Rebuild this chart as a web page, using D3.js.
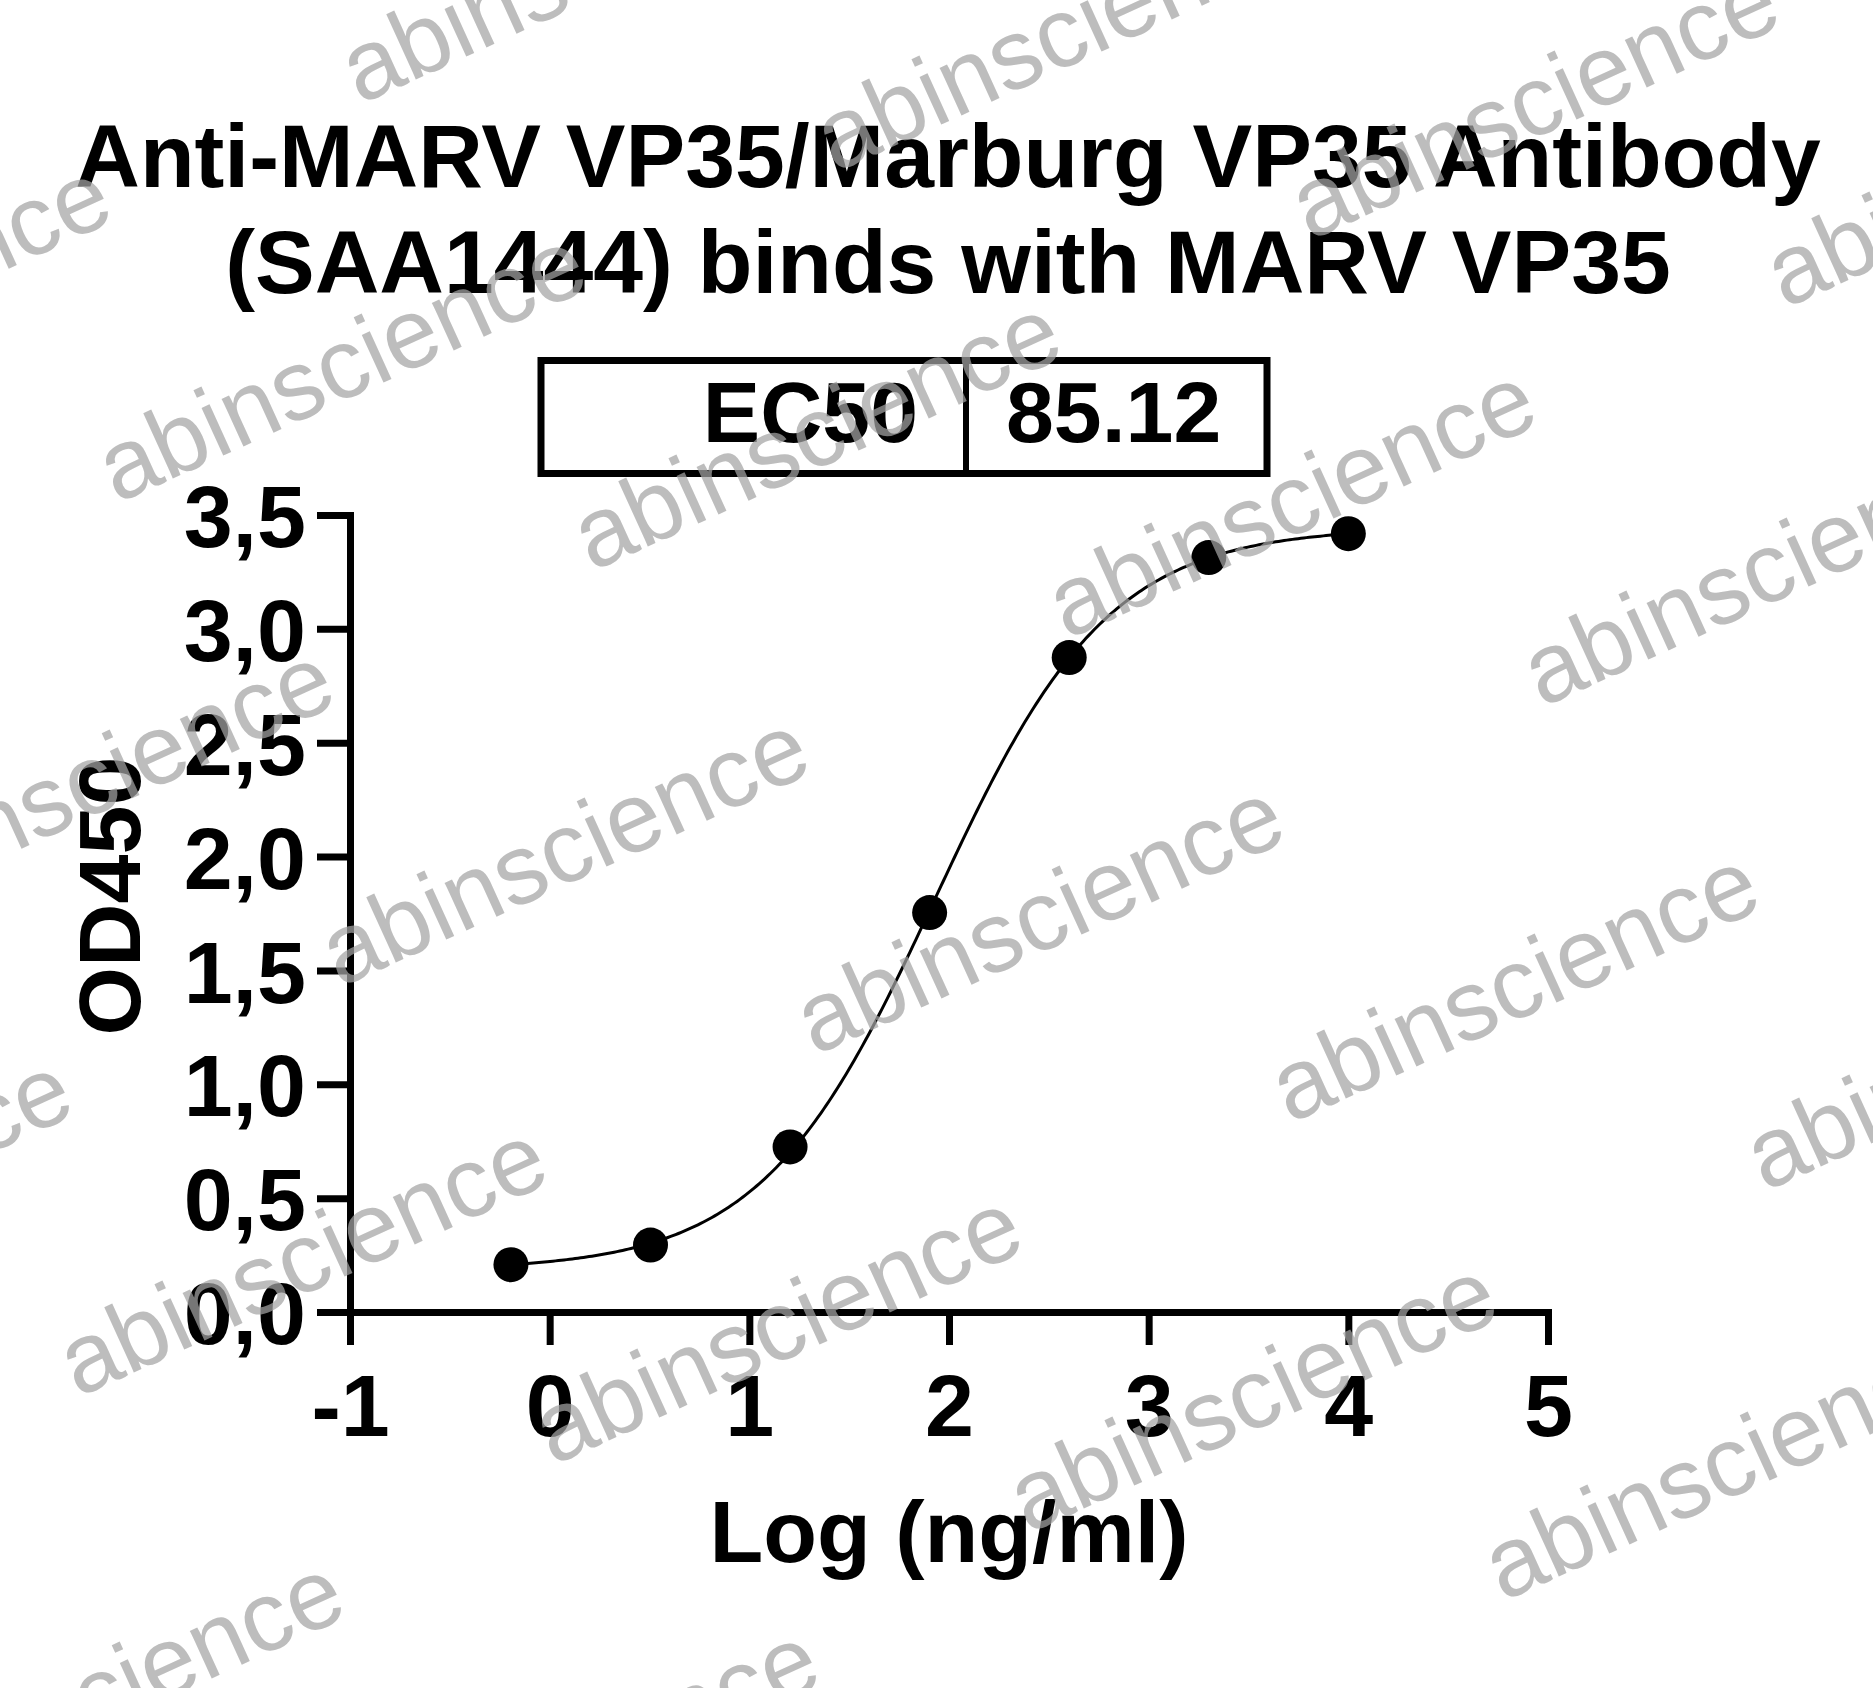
<!DOCTYPE html>
<html><head><meta charset="utf-8">
<script src="https://cdn.jsdelivr.net/npm/d3@7"></script>
<style>body{margin:0;background:#fff}svg{display:block}</style>
</head><body>
<svg id="c" width="1873" height="1688"></svg>
<script>
// ---- data ----
const titleLines = ["Anti-MARV VP35/Marburg VP35 Antibody", "(SAA1444) binds with MARV VP35"];
const logConc = [-0.194, 0.505, 1.204, 1.903, 2.602, 3.301, 4.0];
const od450 = [0.208, 0.294, 0.725, 1.754, 2.874, 3.313, 3.418];
const xTicks = [-1, 0, 1, 2, 3, 4, 5];
const yTicks = [0, 0.5, 1, 1.5, 2, 2.5, 3, 3.5];
const fitBottom = 0.184, fitTop = 3.445, fitHill = 1.0;
const ec50Label = "EC50";
const ec50Value = 85.12;
const xLabel = "Log (ng/ml)";
const yLabel = "OD450";
const watermarkText = "abinscience";

// ---- layout ----
const W = 1873, H = 1688;
const FONT = "'Liberation Sans', Arial, Helvetica, sans-serif";
const plot = {left: 350, right: 1548, top: 515, bottom: 1312};
const svg = d3.select("#c");
svg.append("rect").attr("width", W).attr("height", H).attr("fill", "#fff");

const x = d3.scaleLinear().domain([-1, 5]).range([plot.left, plot.right]);
const y = d3.scaleLinear().domain([0, 3.5]).range([plot.bottom, plot.top]);

// title
const title = svg.append("text").attr("font-family", FONT).attr("font-weight", "bold")
  .attr("font-size", 89.5).attr("text-anchor", "middle").attr("fill", "#000");
titleLines.forEach((t, i) => title.append("tspan").attr("x", 948).attr("y", 187 + i * 106).text(t));

// EC50 box
const box = svg.append("g");
box.append("rect").attr("x", 541).attr("y", 360.5).attr("width", 726).attr("height", 113)
  .attr("fill", "none").attr("stroke", "#000").attr("stroke-width", 7);
box.append("line").attr("x1", 966).attr("x2", 966).attr("y1", 360).attr("y2", 474)
  .attr("stroke", "#000").attr("stroke-width", 6);
box.append("text").attr("x", 918).attr("y", 442).attr("text-anchor", "end")
  .attr("font-family", FONT).attr("font-weight", "bold").attr("font-size", 86).text(ec50Label);
box.append("text").attr("x", 1006).attr("y", 442).attr("text-anchor", "start")
  .attr("font-family", FONT).attr("font-weight", "bold").attr("font-size", 86)
  .text(d3.format(".2f")(ec50Value));

// axes
const styleAxis = g => {
  g.selectAll("path.domain").attr("stroke", "#000").attr("stroke-width", 7).attr("stroke-linecap", "square");
  g.selectAll(".tick line").attr("stroke", "#000").attr("stroke-width", 7);
  g.selectAll(".tick text").attr("font-family", FONT).attr("font-weight", "bold")
    .attr("font-size", 88).attr("fill", "#000");
};
const yAxis = svg.append("g").attr("transform", `translate(${plot.left},0)`)
  .call(d3.axisLeft(y).tickValues(yTicks).tickSize(33).tickSizeOuter(0).tickPadding(11)
    .tickFormat(d => d3.format(".1f")(d).replace(".", ",")));
styleAxis(yAxis);
yAxis.selectAll(".tick text").attr("dy", "0.36em");

const xAxis = svg.append("g").attr("transform", `translate(0,${plot.bottom})`)
  .call(d3.axisBottom(x).tickValues(xTicks).tickSize(33).tickSizeOuter(0).tickPadding(28)
    .tickFormat(d => String(d)));
styleAxis(xAxis);
xAxis.selectAll(".tick text").attr("dy", "0.72em");

// axis titles
svg.append("text").attr("x", 949).attr("y", 1562).attr("text-anchor", "middle")
  .attr("font-family", FONT).attr("font-weight", "bold").attr("font-size", 88).text(xLabel);
svg.append("text").attr("transform", "translate(140,896) rotate(-90)").attr("text-anchor", "middle")
  .attr("font-family", FONT).attr("font-weight", "bold").attr("font-size", 88).text(yLabel);

// fitted 4PL curve
const logEC50 = Math.log10(ec50Value);
const model = v => fitBottom + (fitTop - fitBottom) / (1 + Math.pow(10, fitHill * (logEC50 - v)));
const xmin = d3.min(logConc), xmax = d3.max(logConc);
const curve = d3.range(0, 301).map(i => {
  const v = xmin + (xmax - xmin) * i / 300;
  return [v, model(v)];
});
svg.append("path").datum(curve)
  .attr("d", d3.line().x(d => x(d[0])).y(d => y(d[1])))
  .attr("fill", "none").attr("stroke", "#000").attr("stroke-width", 3);

// points
svg.append("g").selectAll("circle").data(logConc.map((v, i) => [v, od450[i]])).join("circle")
  .attr("cx", d => x(d[0])).attr("cy", d => y(d[1])).attr("r", 17.5).attr("fill", "#000");

// watermark layer
const wmRows = [[360, 105], [117, 504], [340, 988], [78, 1398], [350, 1900]];
const wmStep = [475, 68];
const wm = svg.append("g").attr("fill", "#a4a4a4").attr("fill-opacity", 0.72)
  .attr("font-family", FONT).attr("font-size", 99);
wmRows.forEach(([rx, ry]) => {
  for (let j = -1; j <= 4; j++) {
    const px = rx + j * wmStep[0], py = ry + j * wmStep[1];
    if (px > W + 50 || px < -600) continue;
    wm.append("text").attr("transform", `translate(${px},${py}) rotate(-24.5)`).text(watermarkText);
  }
});
</script>
</body></html>
